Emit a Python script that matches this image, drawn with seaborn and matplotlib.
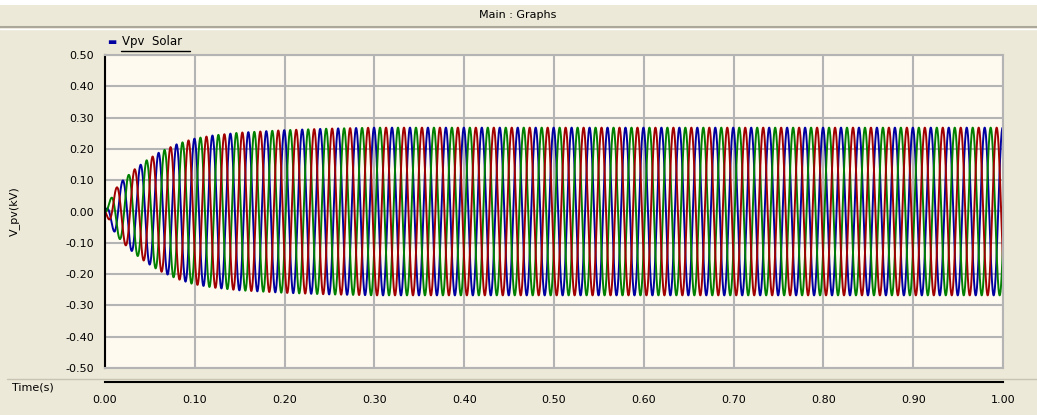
import numpy as np
import pandas as pd
import seaborn as sns
import matplotlib.pyplot as plt
from matplotlib.patches import Rectangle

# values
freq_hz = 50.0
env_t = [0.0, 0.011, 0.02, 0.033, 0.046, 0.061, 0.08, 0.098, 0.12, 0.15, 0.20, 0.25, 0.30, 1.00]
env_amp = [0.0, 0.07, 0.10, 0.135, 0.163, 0.19, 0.215, 0.232, 0.243, 0.252, 0.26, 0.265, 0.268, 0.268]
phases = ['a', 'b', 'c']
phase_deg = [97, -23, -143]
phase_colors = ['#0000a0', '#008000', '#a00000']
x_ticks = [0.0, 0.1, 0.2, 0.3, 0.4, 0.5, 0.6, 0.7, 0.8, 0.9, 1.0]
y_ticks = [0.5, 0.4, 0.3, 0.2, 0.1, 0.0, -0.1, -0.2, -0.3, -0.4, -0.5]

t = np.linspace(0, 1, 4001)
amp = np.interp(t, env_t, env_amp)
rows = []
for p, d in zip(phases, phase_deg):
    v = amp * np.sin(2 * np.pi * freq_hz * t + np.deg2rad(d))
    rows.append(pd.DataFrame({'t': t, 'v': v, 'phase': p}))
df = pd.concat(rows)

sns.set_style('white')
plt.rcParams['font.family'] = ['DejaVu Sans']
plt.rcParams['text.color'] = 'black'
plt.rcParams['xtick.color'] = 'black'
plt.rcParams['ytick.color'] = 'black'
plt.rcParams['axes.labelcolor'] = 'black'

W, H = 1037, 415
bg = '#ece9d8'
fig = plt.figure(figsize=(W / 100, H / 100), dpi=100, facecolor=bg)

def box(x0, y0, x1, y1):
    return [x0 / W, 1 - y1 / H, (x1 - x0) / W, (y1 - y0) / H]

# top white strip + title bar
fig.patches.append(Rectangle((0, 1 - 5 / H), 1, 5 / H, transform=fig.transFigure,
                             facecolor='white', edgecolor='none'))
fig.lines.append(plt.Line2D([0, 1], [1 - 27 / H, 1 - 27 / H], transform=fig.transFigure,
                            color='#aca899', lw=1.5))
fig.lines.append(plt.Line2D([0, 1], [1 - 29 / H, 1 - 29 / H], transform=fig.transFigure,
                            color='white', lw=1))
fig.text(518 / W, 1 - 15 / H, 'Main : Graphs', ha='center', va='center', fontsize=8)

# main plot
ax = fig.add_axes(box(105, 55, 1003, 368))
ax.set_facecolor('#fffaf0')
sns.lineplot(data=df, x='t', y='v', hue='phase', palette=phase_colors,
             estimator=None, sort=False, lw=1.4, legend=False, ax=ax)
ax.set_xlim(0, 1)
ax.set_ylim(-0.5, 0.5)
ax.set_xticks(x_ticks)
ax.set_yticks(y_ticks)
ax.set_yticklabels([f'{v:.2f}' for v in y_ticks], fontsize=8)
ax.tick_params(axis='x', length=0, labelbottom=False)
ax.tick_params(axis='y', direction='out', length=5, width=1.2, color='black', pad=3)
ax.grid(True, color='#b4b4b4', lw=1.5)
ax.set_axisbelow(True)
for s in ['top', 'right', 'bottom']:
    ax.spines[s].set_color('#b4b4b4')
    ax.spines[s].set_linewidth(1.5)
ax.spines['left'].set_color('black')
ax.spines['left'].set_linewidth(1.5)
ax.set_xlabel('')
ax.set_ylabel('V_pv(kV)', fontsize=8)
ax.yaxis.set_label_coords(-85 / 898, 0.5)

# legend strip
fig.text(107 / W, 1 - 42 / H, '\u25ac', color='#0000a0', fontsize=7, va='center')
fig.text(122 / W, 1 - 42 / H, 'Vpv  Solar', fontsize=8.5, va='center')
fig.lines.append(plt.Line2D([121 / W, 190 / W], [1 - 51 / H, 1 - 51 / H],
                            transform=fig.transFigure, color='black', lw=1))

# separate time axis
fig.lines.append(plt.Line2D([7 / W, 1], [1 - 379 / H, 1 - 379 / H], transform=fig.transFigure,
                            color='#c8c4b4', lw=1))
axx = fig.add_axes(box(105, 372, 1003, 382))
axx.set_facecolor('none')
axx.set_xlim(0, 1)
axx.set_yticks([])
axx.set_xticks(x_ticks)
axx.set_xticklabels([f'{v:.2f}' for v in x_ticks], fontsize=8)
axx.tick_params(axis='x', direction='out', length=4, width=1.2, color='black', pad=5)
for s in ['top', 'left', 'right']:
    axx.spines[s].set_visible(False)
axx.spines['bottom'].set_color('black')
axx.spines['bottom'].set_linewidth(1.5)
fig.text(12 / W, 1 - 387 / H, 'Time(s)', fontsize=8, va='center')

fig.savefig('out.png', dpi=100, facecolor=bg)
